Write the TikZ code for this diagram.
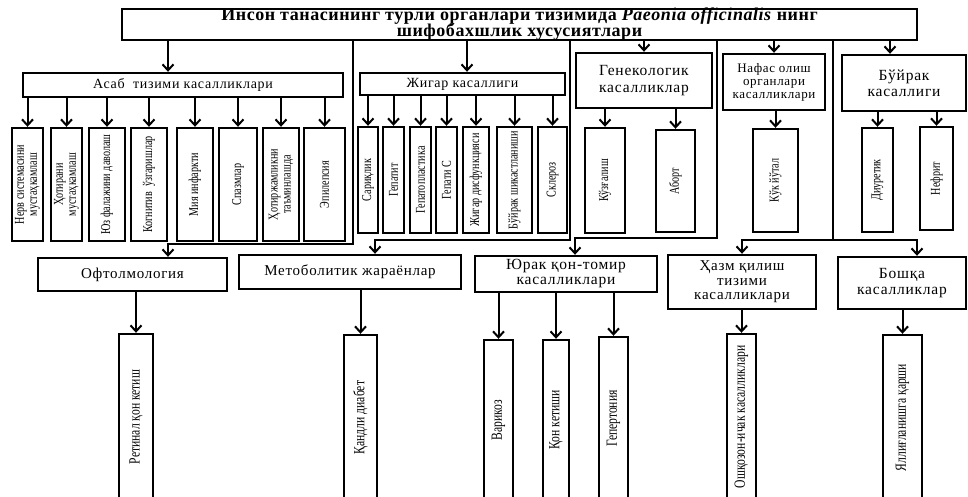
\documentclass[tikz,border=0pt]{standalone}
\usepackage{fontspec}
\setmainfont{Liberation Serif}
\newfontfamily\widefont[LetterSpace=5]{Liberation Serif}
\newfontfamily\titlefont[LetterSpace=3]{Liberation Serif}
\newfontfamily\narrowfont[FakeStretch=0.75]{Liberation Serif}
\usetikzlibrary{arrows.meta}

\begin{document}
\begin{tikzpicture}[x=1pt, y=-1pt,
  box/.style={draw, line width=2.4pt, inner sep=0pt, align=center, font=\widefont\fontsize{14}{16}\selectfont},
  vbox/.style={draw, line width=2.4pt, inner sep=0pt},
  vtext/.style={rotate=90, align=center, inner sep=0pt, font=\narrowfont\fontsize{13.5}{13}\selectfont},
  ltext/.style={vtext, font=\narrowfont\fontsize{15.5}{15}\selectfont},
  ttext/.style={anchor=base, inner sep=0pt, font=\titlefont\bfseries\fontsize{18}{18}\selectfont},
  arr/.style={line width=2pt, -{Straight Barb[length=6pt, width=11pt]}},
  link/.style={line width=2pt}]
  \useasboundingbox (0,0) rectangle (968,497);

  % Title
  \node[box, minimum width=795pt, minimum height=31pt] (title) at (519.5,24.5) {};
  \node[ttext] (t1) at (519.5,21) {Инсон танасининг турли органлари тизимида \textit{Paeonia officinalis} нинг};
  \node[ttext] (t2) at (519.5,37) {шифобахшлик хусусиятлари};

  % Upper groups
  \node[box, minimum width=320pt, minimum height=24pt] (asab) at (183,85) {Асаб\ \ тизими касалликлари};
  \node[box, minimum width=205pt, minimum height=22pt] (jigar) at (462.5,84) {Жигар касаллиги};
  \node[box, minimum width=136pt, minimum height=55pt, font=\widefont\fontsize{15.5}{17}\selectfont] (gen) at (644,80.5) {Генекологик\\касалликлар};
  \node[box, minimum width=102pt, minimum height=56pt, font=\widefont\fontsize{13}{13}\selectfont] (nafas) at (774,82) {Нафас олиш\\органлари\\касалликлари};
  \node[box, minimum width=124pt, minimum height=56pt, font=\widefont\fontsize{15.5}{16}\selectfont] (buyrak) at (904,83) {Бўйрак\\касаллиги};

  \coordinate (ea) at (168,0);
  \coordinate (ej) at (467,0);
  \coordinate (eb) at (890,0);
  \draw[arr] (title.south -| ea) -- (asab.north -| ea);
  \draw[arr] (title.south -| ej) -- (jigar.north -| ej);
  \draw[arr] (title.south -| gen) -- (gen.north);
  \draw[arr] (title.south -| nafas) -- (nafas.north);
  \draw[arr] (title.south -| eb) -- (buyrak.north -| eb);

  % Asab children
  \foreach \nm/\cx/\w/\txt in {a1/27.5/31/{Нерв системасини\\мустаҳкамлаш}, a2/66.5/31/{Ҳотирани\\мустаҳкамлаш},
      a3/107/36/{Юз фалажини даволаш}, a4/149/36/{Когнитив\ \ ўзгаришлар}, a5/195/36/{Мия инфаркти},
      a6/238/38/{Спазмлар}, a7/281/36/{Ҳотиржамликни\\таъминлашда}, a8/324.5/41/{Эпилепсия}} {
    \node[vbox, minimum width=\w pt, minimum height=113pt] (\nm) at (\cx,184.5) {};
    \node[vtext] at (\nm) {\txt};
    \draw[arr] (asab.south -| \nm) -- (\nm.north);
  }

  % Jigar children
  \foreach \nm/\cx/\w/\txt in {jg1/368/20/{Сариқлик}, jg2/393.5/21/{Гепатит}, jg3/420.5/21/{Гепатопластика},
      jg4/446.5/21/{Гепати С}, jg5/476/26/{Жигар дисфункцияси}, jg6/514.5/35/{Бўйрак шикастланиши},
      jg7/552.5/29/{Склероз}} {
    \node[vbox, minimum width=\w pt, minimum height=106pt] (\nm) at (\cx,180) {};
    \node[vtext] at (\nm) {\txt};
    \draw[arr] (jigar.south -| \nm) -- (\nm.north);
  }

  % Gen, nafas, buyrak children
  \node[vbox, minimum width=40pt, minimum height=105pt] (gn1) at (605,180.5) {};
  \node[vtext] at (gn1) {Кўзғалиш};
  \node[vbox, minimum width=39pt, minimum height=102pt] (gn2) at (675.5,181) {};
  \node[vtext] at (gn2) {Аборт};
  \node[vbox, minimum width=45pt, minimum height=103pt] (nf1) at (775.5,180.5) {};
  \node[vtext] at (nf1) {Кўк йўтал};
  \node[vbox, minimum width=31pt, minimum height=104pt] (bu1) at (877.5,180) {};
  \node[vtext] at (bu1) {Диуретик};
  \node[vbox, minimum width=33pt, minimum height=103pt] (bu2) at (936.5,178.5) {};
  \node[vtext] at (bu2) {Нефрит};
  \foreach \p/\c in {gen/gn1, gen/gn2, nafas/nf1, buyrak/bu1, buyrak/bu2}
    \draw[arr] (\p.south -| \c) -- (\c.north);

  % Lower groups
  \node[box, minimum width=189pt, minimum height=33pt, font=\widefont\fontsize{15}{16}\selectfont] (oft) at (132.5,274.5) {Офтолмология};
  \node[box, minimum width=222pt, minimum height=34pt, font=\widefont\fontsize{15}{16}\selectfont] (metab) at (350,272) {Метоболитик жараёнлар};
  \node[box, minimum width=182pt, minimum height=36pt, font=\widefont\fontsize{15.5}{15}\selectfont] (yurak) at (566,274) {Юрак қон-томир\\касалликлари};
  \node[box, minimum width=148pt, minimum height=54pt, font=\widefont\fontsize{15}{14.5}\selectfont] (hazm) at (742,282) {Ҳазм қилиш\\тизими\\касалликлари};
  \node[box, minimum width=128pt, minimum height=52pt, font=\widefont\fontsize{15.5}{16}\selectfont] (boshqa) at (902,283) {Бошқа\\касалликлар};

  % Links from title to lower groups
  \coordinate (k1) at (353,244);
  \coordinate (eo) at (168,0);
  \draw[arr] (title.south -| k1) -- (k1) -| (oft.north -| eo);
  \coordinate (k2) at (570,240);
  \coordinate (em) at (375,0);
  \draw[arr] (title.south -| k2) -- (k2) -| (metab.north -| em);
  \coordinate (k3) at (717,238);
  \coordinate (ey) at (575,0);
  \draw[arr] (title.south -| k3) -- (k3) -| (yurak.north -| ey);
  \coordinate (k4) at (833,240);
  \coordinate (eq) at (917,0);
  \draw[link] (title.south -| k4) -- (k4);
  \draw[arr] (k4) -| (hazm.north);
  \draw[arr] (k4) -| (boshqa.north -| eq);

  % Lower children
  \node[vbox, minimum width=34pt, minimum height=166pt] (of1) at (136,417) {};
  \node[ltext] at (of1) {Ретинал қон кетиш};
  \node[vbox, minimum width=33pt, minimum height=165pt] (mt1) at (360.5,417.5) {};
  \node[ltext] at (mt1) {Қандли диабет};
  \foreach \nm/\cx/\w/\ty/\txt in {yr1/498.5/29/340/{Варикоз}, yr2/556/26/340/{Қон кетиши}, yr3/613.5/29/337/{Гепертония}} {
    \node[vbox, minimum width=\w pt, minimum height=500pt-\ty pt] (\nm) at (\cx,{(500+\ty)/2}) {};
    \node[ltext] at (\nm) {\txt};
    \draw[arr] (yurak.south -| \nm) -- (\nm.north);
  }
  \node[vbox, minimum width=29pt, minimum height=166pt] (hz1) at (741.5,417) {};
  \node[ltext] at (hz1) {Ошқозон-ичак касалликлари};
  \node[vbox, minimum width=39pt, minimum height=165pt] (bq1) at (902.5,417.5) {};
  \node[ltext] at (bq1) {Яллиғланишга қарши};
  \foreach \p/\c in {oft/of1, metab/mt1, hazm/hz1, boshqa/bq1}
    \draw[arr] (\p.south -| \c) -- (\c.north);
\end{tikzpicture}
\end{document}
